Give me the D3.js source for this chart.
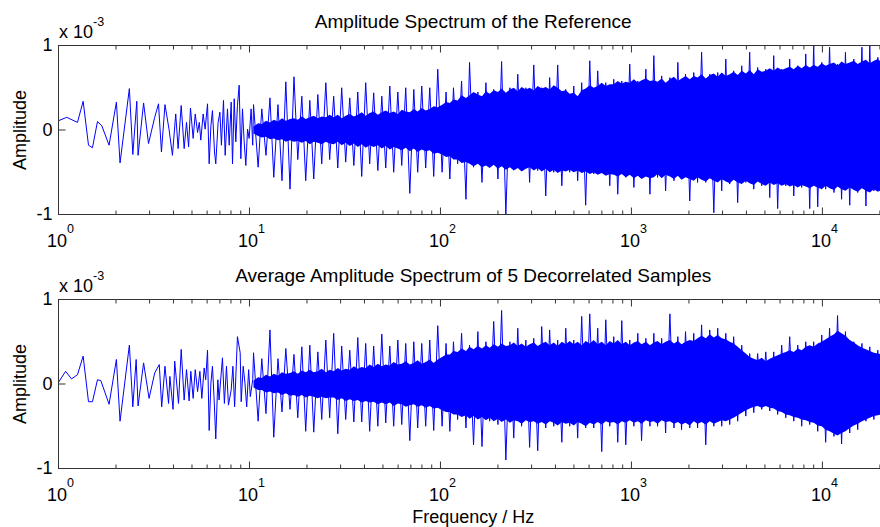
<!DOCTYPE html>
<html>
<head>
<meta charset="utf-8">
<script src="https://cdn.jsdelivr.net/npm/d3@7"></script>
<style>
  body { margin: 0; background: #fff; }
  text { font-family: "Liberation Sans", Arial, Helvetica, sans-serif; fill: #000; }
</style>
</head>
<body>
<svg id="chart" width="880" height="527" viewBox="0 0 880 527"></svg>
<script>
// values are in units of 1e-3 (the axes show "x 10^-3")

// low frequency part, read vertex by vertex
const refLowF = [1.00,1.105,1.257,1.346,1.436,1.506,1.600,1.686,1.84,2.01,2.10,2.35,2.45,2.57,2.61,2.79,2.96,3.19,3.34,3.46,3.61,3.79,3.95,4.11,4.23,4.39,4.55,4.68,4.80,4.91,5.07,5.20,5.35,5.46,5.56,5.72,5.86,6.03,6.15,6.28,6.40,6.56,6.66,6.85,7.00,7.13,7.31,7.46,7.67,7.83,8.02,8.15,8.32,8.48,8.65,8.83,9.01,9.19,9.38,9.57,9.77,9.96,10.2,10.4]
const refLowV = [0.11,0.15,0.09,0.34,-0.18,-0.21,0.10,0.05,-0.18,0.33,-0.39,0.49,-0.29,0.34,-0.30,0.32,-0.16,0.15,0.31,-0.26,0.30,0.01,-0.30,0.19,-0.22,0.29,-0.22,0.09,-0.20,0.26,-0.10,0.19,-0.03,0.09,-0.12,0.19,0.01,0.31,-0.40,0.05,0.23,-0.26,-0.40,0.09,0.21,-0.18,0.35,-0.30,0.25,-0.18,0.33,-0.40,0.37,-0.14,0.29,0.53,-0.34,0.25,-0.14,-0.42,0.01,-0.10,0.25,-0.18]

const avgLowF = [1.00,1.09,1.17,1.257,1.346,1.436,1.506,1.600,1.666,1.84,2.01,2.10,2.35,2.45,2.55,2.61,2.79,2.98,3.19,3.37,3.47,3.61,3.77,3.83,3.98,4.06,4.25,4.39,4.55,4.68,4.83,4.93,5.07,5.20,5.35,5.50,5.63,5.79,5.90,6.03,6.15,6.28,6.40,6.52,6.66,6.83,6.93,7.22,7.39,7.58,7.76,8.02,8.19,8.36,8.65,8.94,9.05,9.27,9.47,9.67,9.90,10.1,10.4]
const avgLowV = [0.02,0.15,0.06,0.11,0.33,-0.21,-0.21,0.05,0.04,-0.24,0.29,-0.44,0.46,-0.27,0.29,-0.26,0.25,-0.17,0.13,0.23,-0.27,0.21,-0.23,0.09,-0.30,0.27,-0.23,0.41,-0.19,0.17,-0.20,0.15,-0.17,0.17,-0.09,0.15,-0.17,0.19,0.05,0.40,-0.55,0.01,0.21,-0.15,-0.65,0.05,-0.19,0.31,-0.23,0.21,-0.25,-0.07,0.21,-0.27,0.56,0.37,-0.21,0.21,0.01,-0.27,0.17,-0.15,0.05]

// dense part: frequencies where peaks / troughs and the solid band edge were read
const denseF = [10.5,11.1,11.6,12.2,12.8,13.4,14.1,14.8,15.5,16.3,
  17.1,17.9,18.8,19.7,20.7,21.7,22.8,23.9,25.1,26.3,
  27.6,29.0,30.4,31.9,33.5,35.2,36.9,38.7,40.6,42.6,
  44.7,47.0,49.3,51.7,54.3,56.9,59.8,62.7,65.8,69.1,
  72.5,76.0,79.8,83.7,87.9,92.2,96.8,102,107,112,
  117,123,129,136,142,149,157,165,173,181,
  190,200,209,220,231,242,254,266,280,293,
  308,323,339,356,373,392,411,432,453,475,
  499,523,549,576,605,635,666,699,734,770,
  808,848,890,934,980,1030,1080,1130,1190,1250,
  1310,1370,1440,1510,1590,1670,1750,1830,1920,2020,
  2120,2220,2330,2450,2570,2700,2830,2970,3120,3270,
  3430,3600,3780,3970,4160,4370,4580,4810,5050,5300,
  5560,5830,6120,6430,6740,7080,7430,7790,8180,8580,
  9000,9450,9920,10400,10900,11500,12000,12600,13200,13900,
  14600,15300,16100,16900,17700,18600,19500,20400,21500,22500]

// peaks (odd) and troughs (even) of the trace
const refDenseV = [0.30,-0.44,0.25,-0.30,0.38,-0.56,0.30,-0.60,0.57,-0.70,
  0.63,-0.35,0.40,-0.60,0.35,-0.58,0.42,-0.40,0.56,-0.35,
  0.40,-0.45,0.50,-0.38,0.38,-0.42,0.45,-0.55,0.56,-0.40,
  0.44,-0.48,0.40,-0.45,0.52,-0.50,0.45,-0.42,0.50,-0.75,
  0.48,-0.50,0.52,-0.45,0.50,-0.55,0.72,-0.50,0.45,-0.58,
  0.50,-0.40,0.58,-0.82,0.80,-0.44,0.45,-0.62,0.56,-0.40,
  0.48,-0.58,0.81,-1.00,0.50,-0.46,0.66,-0.48,0.50,-0.62,
  0.77,-0.48,0.50,-0.78,0.62,-0.50,0.77,-0.66,0.48,-0.50,
  0.52,-0.60,0.56,-0.89,0.82,-0.52,0.70,-0.50,0.56,-0.66,
  0.60,-0.76,0.58,-0.56,0.78,-0.68,0.58,-0.55,0.72,-0.76,
  0.88,-0.56,0.64,-0.72,0.62,-0.60,0.80,-0.58,0.66,-0.84,
  0.68,-0.62,0.92,-0.62,0.66,-0.98,0.68,-0.72,0.84,-0.64,
  0.70,-0.86,0.76,-0.62,0.92,-0.70,0.74,-0.66,0.72,-0.80,
  0.88,-0.93,0.72,-0.66,0.84,-0.78,0.76,-0.68,0.90,-0.93,
  1.00,-0.91,0.80,-0.70,0.98,-0.74,0.78,-0.82,0.92,-0.89,
  0.84,-0.74,0.98,-0.90,1.00,-0.72,0.86,-0.86,0.84,-0.76]

const avgDenseV = [0.37,-0.44,0.30,-0.35,0.64,-0.63,0.30,-0.33,0.42,-0.30,
  0.35,-0.40,0.44,-0.56,0.46,-0.57,0.38,-0.42,0.52,-0.40,
  0.60,-0.59,0.45,-0.42,0.40,-0.45,0.55,-0.45,0.48,-0.56,
  0.45,-0.50,0.59,-0.46,0.45,-0.50,0.52,-0.48,0.48,-0.67,
  0.50,-0.52,0.48,-0.50,0.52,-0.55,0.69,-0.50,0.48,-0.56,
  0.50,-0.42,0.60,-0.52,0.46,-0.72,0.62,-0.74,0.50,-0.44,
  0.74,-0.48,0.87,-0.90,0.50,-0.64,0.66,-0.50,0.52,-0.75,
  0.54,-0.79,0.68,-0.52,0.64,-0.50,0.52,-0.69,0.66,-0.50,
  0.52,-0.64,0.80,-0.52,0.83,-0.52,0.66,-0.80,0.76,-0.50,
  0.56,-0.69,0.75,-0.72,0.52,-0.50,0.60,-0.67,0.54,-0.50,
  0.60,-0.50,0.54,-0.58,0.83,-0.52,0.56,-0.54,0.62,-0.52,
  0.60,-0.52,0.70,-0.72,0.64,-0.50,0.66,-0.50,0.60,-0.48,
  0.56,-0.44,0.46,-0.38,0.36,-0.34,0.36,-0.30,0.38,-0.32,
  0.38,-0.36,0.46,-0.40,0.56,-0.44,0.46,-0.50,0.50,-0.48,
  0.50,-0.56,0.58,-0.69,0.66,-0.62,0.81,-0.71,0.62,-0.58,
  0.50,-0.54,0.48,-0.44,0.44,-0.42,0.40,-0.40,0.42,-0.38]

// upper / lower edge of the solid part of the band
const refBodyHi = [0.04,0.08,0.07,0.11,0.09,0.12,0.10,0.14,0.11,0.13,
  0.14,0.12,0.16,0.13,0.15,0.17,0.14,0.16,0.15,0.18,
  0.15,0.18,0.14,0.17,0.19,0.16,0.18,0.21,0.17,0.20,
  0.22,0.18,0.21,0.23,0.20,0.22,0.19,0.24,0.22,0.21,
  0.25,0.22,0.26,0.23,0.25,0.28,0.27,0.30,0.33,0.32,
  0.36,0.35,0.41,0.38,0.41,0.45,0.42,0.40,0.46,0.43,
  0.47,0.45,0.49,0.44,0.48,0.50,0.46,0.51,0.48,0.50,
  0.47,0.52,0.49,0.51,0.48,0.53,0.50,0.46,0.47,0.43,
  0.44,0.40,0.47,0.49,0.53,0.50,0.52,0.56,0.52,0.54,
  0.54,0.58,0.55,0.57,0.56,0.60,0.56,0.59,0.61,0.58,
  0.59,0.57,0.61,0.56,0.60,0.63,0.58,0.61,0.64,0.60,
  0.64,0.62,0.66,0.61,0.65,0.67,0.63,0.68,0.64,0.66,
  0.69,0.65,0.70,0.67,0.71,0.66,0.72,0.69,0.70,0.73,
  0.70,0.74,0.71,0.73,0.75,0.72,0.76,0.73,0.77,0.74,
  0.77,0.75,0.79,0.76,0.78,0.80,0.76,0.81,0.78,0.80,
  0.82,0.78,0.81,0.83,0.79,0.82,0.84,0.80,0.82,0.81]

const refBodyLo = [-0.04,-0.07,-0.09,-0.08,-0.11,-0.10,-0.12,-0.11,-0.14,-0.12,
  -0.14,-0.13,-0.15,-0.13,-0.17,-0.14,-0.15,-0.17,-0.14,-0.16,
  -0.17,-0.14,-0.18,-0.15,-0.19,-0.16,-0.20,-0.17,-0.21,-0.18,
  -0.20,-0.18,-0.22,-0.19,-0.23,-0.20,-0.22,-0.24,-0.21,-0.25,
  -0.22,-0.26,-0.23,-0.25,-0.24,-0.28,-0.27,-0.29,-0.32,-0.31,
  -0.35,-0.35,-0.39,-0.38,-0.40,-0.43,-0.40,-0.44,-0.42,-0.45,
  -0.41,-0.46,-0.43,-0.47,-0.44,-0.48,-0.45,-0.49,-0.46,-0.44,
  -0.48,-0.45,-0.49,-0.46,-0.50,-0.47,-0.51,-0.48,-0.49,-0.47,
  -0.50,-0.48,-0.51,-0.49,-0.52,-0.50,-0.53,-0.51,-0.54,-0.52,
  -0.53,-0.55,-0.52,-0.56,-0.53,-0.57,-0.54,-0.58,-0.55,-0.57,
  -0.56,-0.52,-0.57,-0.53,-0.55,-0.58,-0.54,-0.59,-0.56,-0.58,
  -0.60,-0.56,-0.59,-0.61,-0.57,-0.60,-0.62,-0.58,-0.61,-0.63,
  -0.59,-0.62,-0.64,-0.60,-0.63,-0.65,-0.61,-0.64,-0.66,-0.62,
  -0.65,-0.63,-0.66,-0.64,-0.67,-0.65,-0.68,-0.65,-0.67,-0.69,
  -0.66,-0.68,-0.70,-0.66,-0.69,-0.71,-0.67,-0.70,-0.72,-0.68,
  -0.71,-0.73,-0.69,-0.72,-0.74,-0.70,-0.73,-0.71,-0.74,-0.72]

const avgBodyHi = [0.04,0.08,0.07,0.11,0.09,0.12,0.10,0.14,0.12,0.13,
  0.15,0.12,0.16,0.14,0.17,0.14,0.15,0.18,0.14,0.17,
  0.15,0.19,0.16,0.18,0.17,0.21,0.18,0.20,0.19,0.23,
  0.20,0.24,0.21,0.23,0.22,0.26,0.23,0.24,0.27,0.23,
  0.25,0.28,0.24,0.26,0.29,0.25,0.29,0.32,0.35,0.35,
  0.39,0.38,0.42,0.39,0.44,0.41,0.45,0.42,0.46,0.43,
  0.47,0.44,0.48,0.45,0.46,0.49,0.45,0.48,0.44,0.47,
  0.49,0.45,0.48,0.50,0.46,0.49,0.45,0.50,0.47,0.51,
  0.47,0.50,0.46,0.51,0.48,0.52,0.47,0.50,0.46,0.51,
  0.48,0.52,0.47,0.50,0.46,0.49,0.51,0.47,0.50,0.46,
  0.49,0.51,0.47,0.50,0.52,0.48,0.51,0.47,0.50,0.52,
  0.51,0.54,0.57,0.54,0.59,0.55,0.58,0.54,0.53,0.50,
  0.48,0.44,0.40,0.36,0.32,0.30,0.28,0.31,0.27,0.30,
  0.32,0.34,0.36,0.38,0.40,0.38,0.42,0.40,0.44,0.46,
  0.44,0.48,0.50,0.53,0.56,0.59,0.63,0.60,0.57,0.52,
  0.49,0.46,0.43,0.41,0.39,0.37,0.36,0.35,0.37,0.35]

const avgBodyLo = [-0.04,-0.07,-0.07,-0.10,-0.09,-0.11,-0.10,-0.13,-0.11,-0.14,
  -0.13,-0.15,-0.13,-0.16,-0.14,-0.15,-0.17,-0.15,-0.17,-0.16,
  -0.16,-0.19,-0.17,-0.20,-0.18,-0.20,-0.19,-0.22,-0.20,-0.22,
  -0.21,-0.24,-0.22,-0.24,-0.22,-0.26,-0.23,-0.24,-0.27,-0.25,
  -0.24,-0.27,-0.25,-0.28,-0.26,-0.29,-0.28,-0.31,-0.33,-0.33,
  -0.36,-0.36,-0.39,-0.37,-0.41,-0.38,-0.42,-0.39,-0.43,-0.40,
  -0.44,-0.41,-0.45,-0.42,-0.46,-0.43,-0.44,-0.47,-0.43,-0.45,
  -0.44,-0.47,-0.45,-0.48,-0.44,-0.46,-0.49,-0.45,-0.47,-0.46,
  -0.49,-0.45,-0.47,-0.50,-0.46,-0.48,-0.45,-0.48,-0.44,-0.46,
  -0.45,-0.48,-0.44,-0.46,-0.43,-0.46,-0.44,-0.47,-0.43,-0.45,
  -0.44,-0.47,-0.43,-0.45,-0.44,-0.47,-0.45,-0.48,-0.46,-0.49,
  -0.44,-0.47,-0.45,-0.48,-0.44,-0.47,-0.45,-0.43,-0.44,-0.42,
  -0.40,-0.37,-0.34,-0.31,-0.29,-0.27,-0.26,-0.28,-0.26,-0.28,
  -0.29,-0.32,-0.33,-0.36,-0.37,-0.39,-0.40,-0.42,-0.43,-0.45,
  -0.46,-0.49,-0.50,-0.54,-0.56,-0.59,-0.61,-0.58,-0.56,-0.52,
  -0.49,-0.47,-0.44,-0.42,-0.40,-0.38,-0.37,-0.36,-0.37,-0.36]

const xTicks = [1, 10, 100, 1000, 10000]
const xTickExp = ["0", "1", "2", "3", "4"]
const xMinor = [2,3,4,5,6,7,8,9,20,30,40,50,60,70,80,90,200,300,400,500,600,700,800,900,
  2000,3000,4000,5000,6000,7000,8000,9000,20000]
const yTicks = [-1, 0, 1]

const titles = ["Amplitude Spectrum of the Reference", "Average Amplitude Spectrum of 5 Decorrelated Samples"]

const svg = d3.select("#chart")
const plotH = 169
const axisColor = "#333"
const blue = "#0000ff"

const x = d3.scaleLog().domain([1, 22050]).range([58.5, 888])

const panels = [
    {title: titles[0], top: 45.5, lowF: refLowF, lowV: refLowV, denseV: refDenseV, hi: refBodyHi, lo: refBodyLo},
    {title: titles[1], top: 299.5, lowF: avgLowF, lowV: avgLowV, denseV: avgDenseV, hi: avgBodyHi, lo: avgBodyLo}
]

panels.forEach((p, k) => {
    const bottom = p.top + plotH
    const y = d3.scaleLinear().domain([-1, 1]).range([bottom, p.top])
    const g = svg.append("g")

    g.append("clipPath").attr("id", "clip" + k)
        .append("rect")
        .attr("x", x(1)).attr("y", p.top)
        .attr("width", x(22050) - x(1)).attr("height", plotH)

    const plot = g.append("g").attr("clip-path", `url(#clip${k})`)

    const body = denseF.map((f, i) => ({f: f, hi: p.hi[i], lo: p.lo[i]}))
    plot.append("path")
        .datum(body)
        .attr("fill", blue)
        .attr("d", d3.area().x(d => x(d.f)).y0(d => y(d.lo)).y1(d => y(d.hi)))

    const trace = p.lowF.map((f, i) => ({f: f, v: p.lowV[i]}))
        .concat(denseF.map((f, i) => ({f: f, v: p.denseV[i]})))
    plot.append("path")
        .datum(trace)
        .attr("fill", "none")
        .attr("stroke", blue)
        .attr("stroke-width", 1)
        .attr("stroke-linejoin", "round")
        .attr("d", d3.line().x(d => x(d.f)).y(d => y(d.v)))

    // ticks, pointing inwards on all sides
    const noDomain = s => s.select(".domain").remove()
    const styleTicks = s => s.selectAll("line").attr("stroke", axisColor)

    g.append("g").attr("transform", `translate(0,${bottom})`)
        .call(d3.axisBottom(x).tickValues(xTicks).tickSize(-7).tickFormat("").offset(0))
        .call(noDomain).call(styleTicks)
    g.append("g").attr("transform", `translate(0,${bottom})`)
        .call(d3.axisBottom(x).tickValues(xMinor).tickSize(-4).tickFormat("").offset(0))
        .call(noDomain).call(styleTicks)
    g.append("g").attr("transform", `translate(0,${p.top})`)
        .call(d3.axisTop(x).tickValues(xTicks).tickSize(-7).tickFormat("").offset(0))
        .call(noDomain).call(styleTicks)
    g.append("g").attr("transform", `translate(0,${p.top})`)
        .call(d3.axisTop(x).tickValues(xMinor).tickSize(-4).tickFormat("").offset(0))
        .call(noDomain).call(styleTicks)

    const yAxis = g.append("g").attr("transform", `translate(${x(1)},0)`)
        .call(d3.axisLeft(y).tickValues(yTicks).tickSize(-7).tickPadding(6).offset(0)
            .tickFormat(d => String(d)))
        .call(noDomain).call(styleTicks)
    yAxis.selectAll("text")
        .attr("font-size", 18)
        .attr("font-family", null)
        .attr("fill", "#000")

    // box
    g.append("rect")
        .attr("x", x(1)).attr("y", p.top)
        .attr("width", x(22050) - x(1)).attr("height", plotH)
        .attr("fill", "none").attr("stroke", axisColor)

    // x tick labels 10^n
    const xl = g.selectAll(".xlab").data(xTicks).join("text")
        .attr("class", "xlab")
        .attr("x", d => x(d) + 2)
        .attr("y", bottom + 32.5)
        .attr("text-anchor", "middle")
        .attr("font-size", 18)
    xl.append("tspan").text("10")
    xl.append("tspan").attr("dy", -14).attr("font-size", 12.5).text((d, i) => xTickExp[i])

    // exponent label
    const ex = g.append("text")
        .attr("x", x(1) + 0.5).attr("y", p.top - 7.5)
        .attr("font-size", 18)
    ex.append("tspan").text("x 10")
    ex.append("tspan").attr("dy", -12).attr("font-size", 12.5).text("-3")

    g.append("text")
        .attr("x", (x(1) + x(22050)) / 2).attr("y", p.top - 17.5)
        .attr("text-anchor", "middle")
        .attr("font-size", 19)
        .text(p.title)

    g.append("text")
        .attr("transform", `translate(26,${(p.top + bottom) / 2}) rotate(-90)`)
        .attr("text-anchor", "middle")
        .attr("font-size", 18)
        .text("Amplitude")
})

svg.append("text")
    .attr("x", (x(1) + x(22050)) / 2).attr("y", 523)
    .attr("text-anchor", "middle")
    .attr("font-size", 18)
    .text("Frequency / Hz")
</script>
</body>
</html>
